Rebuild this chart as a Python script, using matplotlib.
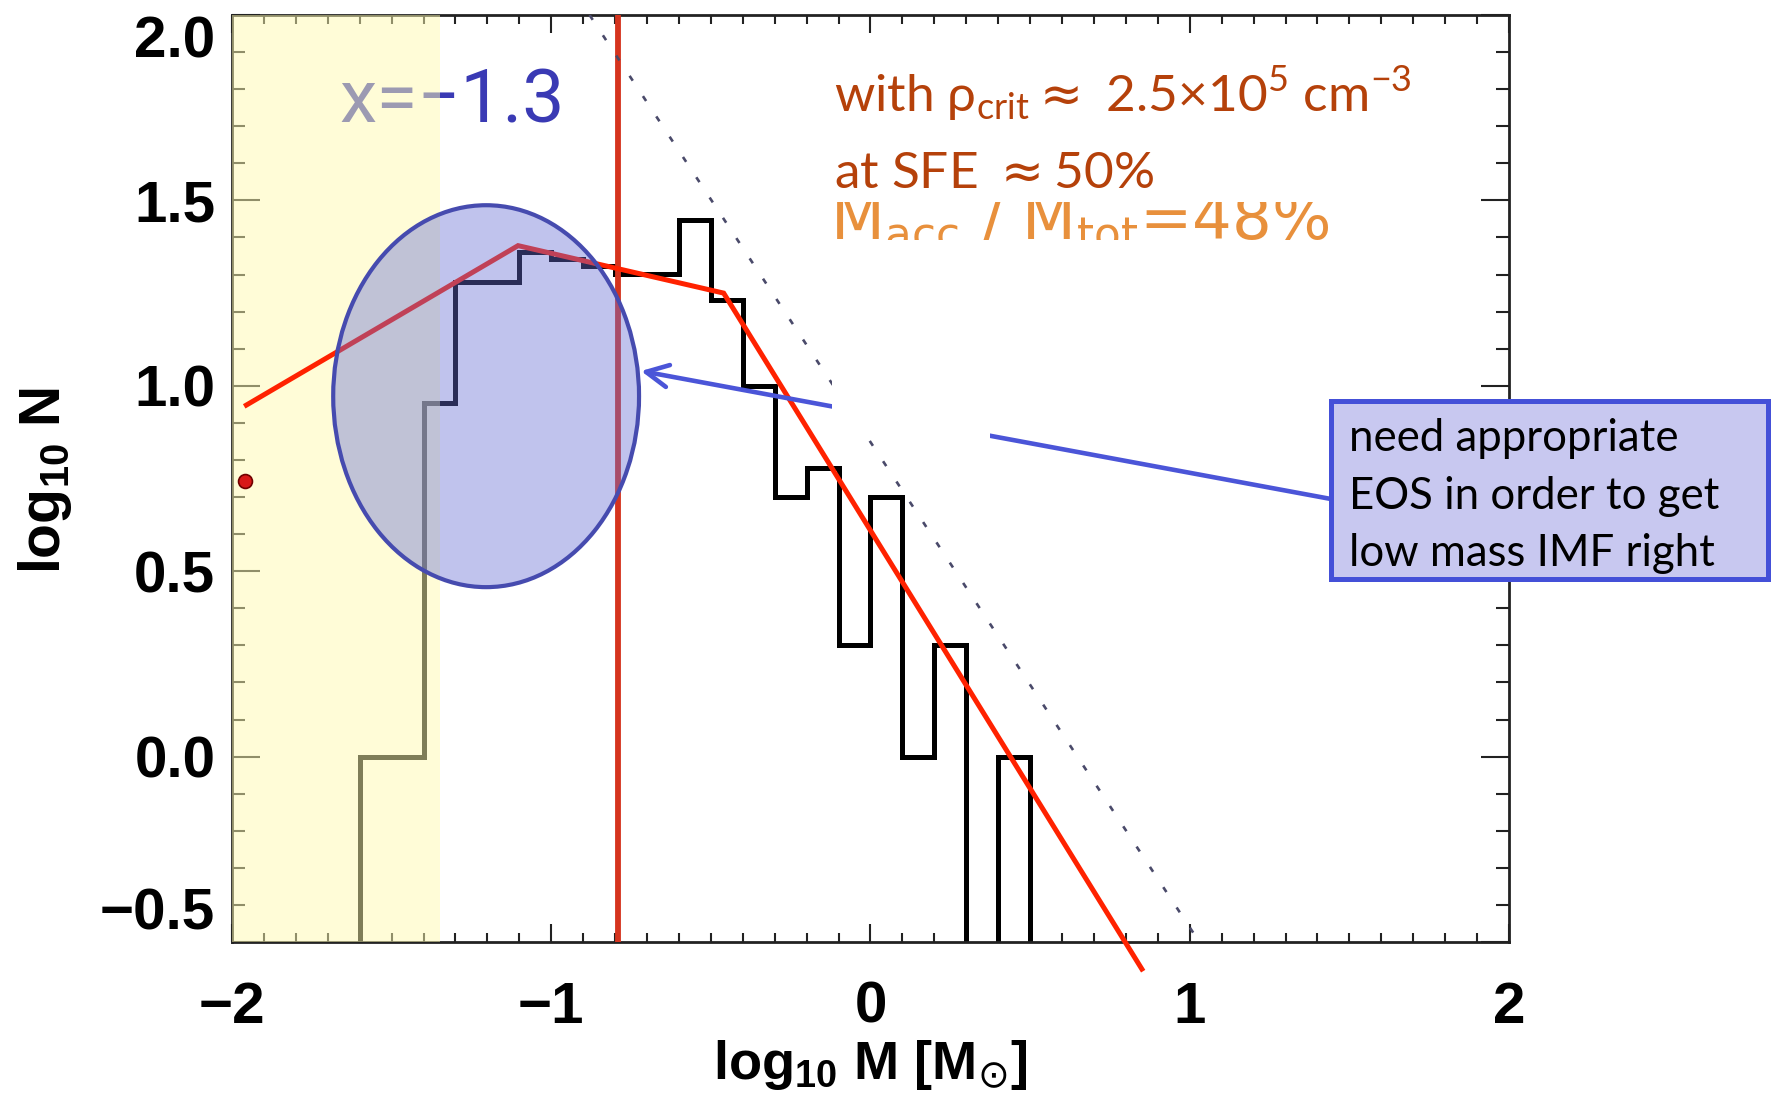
import numpy as np
import matplotlib
matplotlib.use('Agg')
import matplotlib.pyplot as plt
from matplotlib.patches import Ellipse, Rectangle, FancyArrowPatch
from matplotlib.ticker import MultipleLocator, FixedFormatter, FixedLocator

# mass function: 0.1 dex bins in log10 M, star counts per bin
bin_edges = np.round(np.arange(-1.7, 0.65, 0.1), 2)
counts = np.array([0, 1, 1, 9, 19, 19, 23, 22, 21, 20, 20, 28,
                   17, 10, 5, 6, 2, 5, 1, 2, 0, 1, 0])

# broken power-law fit (red)
fit_x = [-1.955, -1.104, -0.46, 0.85]
fit_y = [0.948, 1.378, 1.25, -0.573]

# reference slope x = -1.3 (dotted)
ref_x = [-0.88, 1.03]
ref_y = [2.0, -0.5]

# resolution limit and unresolved region
m_crit = -0.79
yellow_lo, yellow_hi = -2.0, -1.35

# single point on the left edge
pt_x = [-1.959]
pt_y = [0.743]

xticks = [-2, -1, 0, 1, 2]
xticklabels = ['\u22122', '\u22121', '0', '1', '2']
yticks = [-0.5, 0.0, 0.5, 1.0, 1.5, 2.0]
yticklabels = ['\u22120.5', '0.0', '0.5', '1.0', '1.5', '2.0']

W, H = 1773, 1104
fig = plt.figure(figsize=(W / 100, H / 100), dpi=100)
fig.patch.set_facecolor('white')
ax = fig.add_axes([232 / W, 1 - 942 / H, (1509 - 232) / W, (942 - 15) / H])

def px(x, y):
    # figure pixels measured from top-left -> figure fraction
    return x / W, 1 - y / H

logN = np.log10(np.where(counts > 0, counts, 1e-3))
ax.stairs(logN, bin_edges, baseline=None, color='black', lw=3.6, zorder=2)

ax.plot(fit_x, fit_y, color='#FF2200', lw=3.6, zorder=4.5, clip_on=False,
        solid_joinstyle='miter')
ax.axvline(m_crit, color='#D5341E', lw=4.2, zorder=3)
ax.plot(ref_x, ref_y, color='#4A4A6A', lw=1.9, ls=(0, (2.2, 7)), zorder=7)

ax.text(-1.311, 1.765, 'x=\u22121.3', color='#3A3AB4', fontsize=54,
        family='Roboto', ha='center', va='center', zorder=1.5)

ax.axvspan(yellow_lo, yellow_hi, color='#FFFBB1', alpha=0.5, lw=0, zorder=4)

ax.add_patch(Ellipse((-1.204, 0.972), 0.958, 1.03,
                     facecolor=(104 / 255, 111 / 255, 213 / 255, 0.41),
                     edgecolor='#464BAF', lw=3, zorder=5))

ax.plot(pt_x, pt_y, 'o', ms=10, mfc='#D81818', mec='#700000', mew=1.2, zorder=6)

ax.set_xlim(-2, 2)
ax.set_ylim(-0.5, 2.0)
ax.xaxis.set_major_locator(FixedLocator(xticks))
ax.xaxis.set_major_formatter(FixedFormatter(xticklabels))
ax.xaxis.set_minor_locator(MultipleLocator(0.1))
ax.yaxis.set_major_locator(FixedLocator(yticks))
ax.yaxis.set_major_formatter(FixedFormatter(yticklabels))
ax.yaxis.set_minor_locator(MultipleLocator(0.1))
ax.tick_params(which='both', direction='in', top=True, right=True,
               width=1.5, color='#222222')
ax.tick_params(axis='x', which='major', length=13, pad=28)
ax.tick_params(axis='x', which='minor', length=6.5)
ax.tick_params(axis='y', which='major', length=20, pad=12)
ax.tick_params(axis='y', which='minor', length=9.5)
for lab in ax.get_xticklabels() + ax.get_yticklabels():
    lab.set_fontfamily('Liberation Sans')
    lab.set_fontweight('bold')
    lab.set_fontsize(42)
# end labels are kept inside the frame height
ymaj = ax.yaxis.get_major_ticks()
ymaj[0].label1.set_verticalalignment('bottom')
ymaj[-1].label1.set_verticalalignment('top')
for sp in ax.spines.values():
    sp.set_linewidth(2)
    sp.set_color('#222222')

ax.set_xlabel('log$_{\\mathregular{10}}$ M [M$_{\\odot}$]', family='Liberation Sans',
              fontweight='bold', fontsize=39, va='center')
ax.xaxis.set_label_coords(0.5, -(1065 - 942) / 927)
ax.set_ylabel('log$_{\\mathregular{10}}$ N', family='Liberation Sans',
              fontweight='bold', fontsize=41, va='center', ha='center')
ax.yaxis.set_label_coords(-(232 - 45) / 1277, (942 - 480) / 927)

tf = fig.transFigure

# blue pointer from the note to the ellipse
ax.add_patch(FancyArrowPatch(px(1331, 499), px(641, 371), transform=tf,
                             arrowstyle='->,head_length=16,head_width=8',
                             mutation_scale=1, color='#4B55D8', lw=3.3,
                             shrinkA=0, shrinkB=0, clip_on=False, zorder=6))
ax.add_patch(Rectangle(px(835, 449), 155 / W, 16 / H, transform=tf,
                       facecolor='white', lw=0, clip_on=False, zorder=6.5))

# accreted mass fraction label, mostly hidden behind the white boxes
ax.text(*px(830, 239), 'M$_{\\mathregular{acc}}$ / M$_{\\mathregular{tot}}$=48%',
        transform=tf, color='#E8903C', fontsize=45, family='DejaVu Sans',
        va='baseline', ha='left', clip_on=False, zorder=7.2)
ax.add_patch(Rectangle(px(832, 433), (1320 - 832) / W, (433 - 240) / H,
                       transform=tf, facecolor='white', lw=0, clip_on=False,
                       zorder=7.5))
ax.add_patch(Rectangle(px(815, 202), (1420 - 815) / W, (202 - 45) / H,
                       transform=tf, facecolor='white', lw=0, clip_on=False,
                       zorder=8))

orange = '#B5410A'
ax.text(*px(834, 112),
        'with \u03c1$_{\\mathregular{crit}}\\approx$ 2.5\u00d710$^{\\mathregular{5}}$ cm$^{\\mathregular{-3}}$',
        transform=tf, color=orange, fontsize=37, family='Lato',
        va='baseline', ha='left', clip_on=False, zorder=9)
ax.text(*px(834, 188), 'at SFE $\\approx$50%', transform=tf, color=orange,
        fontsize=37, family='Lato', va='baseline', ha='left', clip_on=False,
        zorder=9)

# note box
ax.add_patch(Rectangle(px(1331, 579), (1768 - 1331) / W, (579 - 401) / H,
                       transform=tf, facecolor='#C8C8F0', edgecolor='#4450D8',
                       lw=3.6, clip_on=False, zorder=9))
for txt, base in [('need appropriate', 451), ('EOS in order to get', 509),
                  ('low mass IMF right', 566)]:
    ax.text(*px(1349, base), txt, transform=tf, color='black', fontsize=31.5,
            family='Lato', va='baseline', ha='left', clip_on=False, zorder=10)

fig.savefig('out.png', dpi=100)
